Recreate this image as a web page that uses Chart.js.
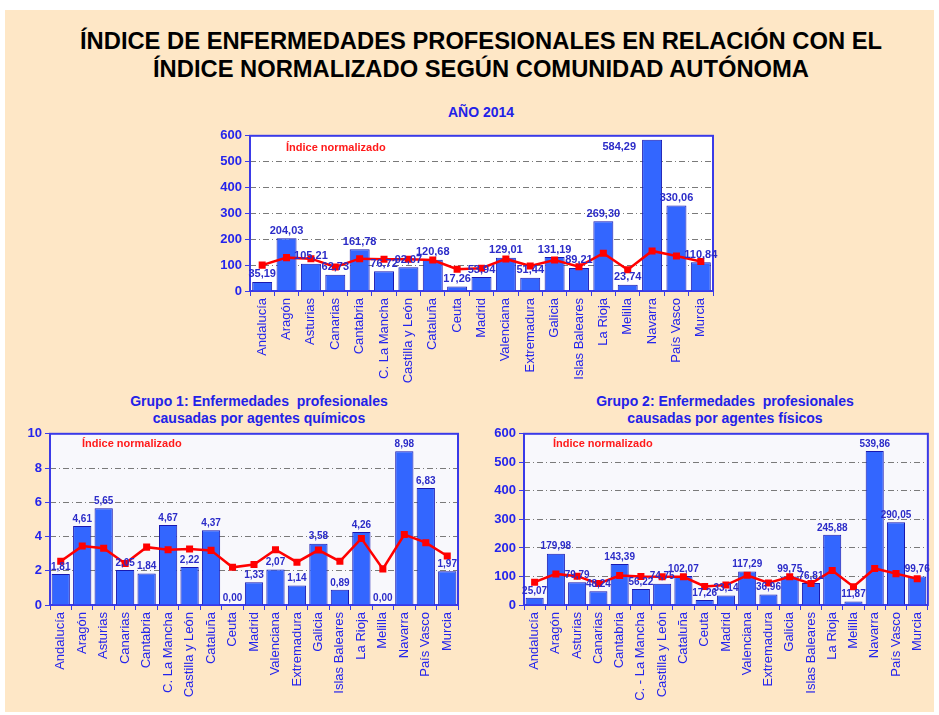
<!DOCTYPE html>
<html>
<head>
<meta charset="utf-8">
<script src="https://cdn.jsdelivr.net/npm/chart.js@4/dist/chart.umd.min.js"></script>
<style>
  html, body { margin: 0; padding: 0; background: #fff; }
  #page { position: relative; width: 939px; height: 715px; overflow: hidden; background: #fff; }
  #sheet { position: absolute; left: 5px; top: 10px; width: 929px; height: 702px; background: #FEE7C6; }
  .title { position: absolute; left: 0; width: 962px; text-align: center; font: bold 24px 'Liberation Sans', Arial, sans-serif; color: #000; line-height: 28px; transform-origin: 481px 50%; white-space: nowrap; }
  .sub { position: absolute; text-align: center; font: bold 14px 'Liberation Sans', Arial, sans-serif; color: #2222E8; line-height: 17px; white-space: pre; }
  canvas { position: absolute; }
</style>
</head>
<body>
<div id="page">
  <div id="sheet"></div>
  <div class="title" id="t1" style="top:27px">ÍNDICE DE ENFERMEDADES PROFESIONALES EN RELACIÓN CON EL</div>
  <div class="title" id="t2" style="top:55px">ÍNDICE NORMALIZADO SEGÚN COMUNIDAD AUTÓNOMA</div>
  <div class="sub" style="left:381px; width:200px; top:104px">AÑO 2014</div>
  <div class="sub" style="left:99px; width:320px; top:393px">Grupo 1: Enfermedades  profesionales
causadas por agentes químicos</div>
  <div class="sub" style="left:565px; width:320px; top:393px">Grupo 2: Enfermedades  profesionales
causadas por agentes físicos</div>
  <canvas id="chartTotal" width="520" height="275" style="left:200px; top:125px"></canvas>
  <canvas id="chartG1" width="460" height="285" style="left:10px; top:423px"></canvas>
  <canvas id="chartG2" width="460" height="285" style="left:475px; top:423px"></canvas>
</div>

<script>
// Comunidades autónomas
const regiones = ['Andalucía', 'Aragón', 'Asturias', 'Canarias', 'Cantabria', 'C. La Mancha', 'Castilla y León', 'Cataluña', 'Ceuta', 'Madrid', 'Valenciana', 'Extremadura', 'Galicia', 'Islas Baleares', 'La Rioja', 'Melilla', 'Navarra', 'País Vasco', 'Murcia'];
const regionesG2 = ['Andalucía', 'Aragón', 'Asturias', 'Canarias', 'Cantabria', 'C. - La Mancha', 'Castilla y León', 'Cataluña', 'Ceuta', 'Madrid', 'Valenciana', 'Extremadura', 'Galicia', 'Islas Baleares', 'La Rioja', 'Melilla', 'Navarra', 'País Vasco', 'Murcia'];

// Año 2014 - total
const indiceTotal = [35.19, 204.03, 105.21, 62.73, 161.78, 76.72, 92.07, 120.68, 17.26, 53.94, 129.01, 51.44, 131.19, 89.21, 269.30, 23.74, 584.29, 330.06, 110.84];
const normalizadoTotal = [100, 129, 125, 93, 125, 123, 123, 120, 84, 88, 124, 97, 120, 94, 146, 82, 155, 135, 114];

// Grupo 1: agentes químicos
const indiceG1 = [1.81, 4.61, 5.65, 2.05, 1.84, 4.67, 2.22, 4.37, 0.00, 1.33, 2.07, 1.14, 3.58, 0.89, 4.26, 0.00, 8.98, 6.83, 1.97];
const normalizadoG1 = [2.55, 3.44, 3.31, 2.42, 3.38, 3.23, 3.27, 3.19, 2.20, 2.36, 3.23, 2.50, 3.21, 2.55, 3.89, 2.11, 4.12, 3.64, 2.86];

// Grupo 2: agentes físicos
const indiceG2 = [25.07, 179.98, 79.79, 48.24, 143.39, 56.22, 74.75, 102.07, 17.26, 33.14, 117.29, 36.96, 99.75, 76.81, 245.88, 11.87, 539.86, 290.05, 99.76];
const normalizadoG2 = [80, 109, 101, 75, 103, 100, 99, 99, 65, 70, 104, 77, 99, 75, 121, 64, 128, 110, 92];

// Escalas del eje Y
const ejeTotal = { max: 600, step: 100 };
const ejeG1 = { max: 10, step: 2 };
const ejeG2 = { max: 600, step: 100 };

const BLUE_TEXT = '#2424EC';
const FONT = "'Liberation Sans', Arial, sans-serif";

// título estrecho: se comprime el Arial al ancho del original
(function ajustarTitulo() {
    const c = document.createElement('canvas').getContext('2d');
    c.font = 'bold 24px ' + FONT;
    const w = c.measureText(document.getElementById('t1').textContent).width;
    const k = 802 / w;
    ['t1', 't2'].forEach(id => { document.getElementById(id).style.transform = 'scaleX(' + k + ')'; });
})();

const marcoPlugin = {
    id: 'marco',
    beforeDraw(chart, args, opts) {
        const a = chart.chartArea, ctx = chart.ctx;
        ctx.save();
        ctx.fillStyle = opts.bg;
        ctx.fillRect(a.left, a.top, a.right - a.left, a.bottom - a.top);
        ctx.restore();
    },
    beforeDatasetsDraw(chart) {
        const a = chart.chartArea, ctx = chart.ctx;
        ctx.save();
        ctx.strokeStyle = '#3A3AE8';
        ctx.lineWidth = 2;
        ctx.strokeRect(a.left, a.top, a.right - a.left, a.bottom - a.top);
        ctx.restore();
    },
    afterDatasetsDraw(chart, args, opts) {
        const ctx = chart.ctx, a = chart.chartArea;
        ctx.save();
        // etiquetas de valor sobre las barras
        const meta = chart.getDatasetMeta(1);
        ctx.fillStyle = '#2B2BC8';
        ctx.font = 'bold ' + opts.size + 'px ' + FONT;
        ctx.textBaseline = 'bottom';
        meta.data.forEach((bar, i) => {
            const txt = chart.data.datasets[1].data[i].toFixed(2).replace('.', ',');
            if (bar.y - 3 - opts.size < a.top) {
                // no cabe encima: a la izquierda de la barra
                ctx.textAlign = 'right';
                ctx.fillText(txt, bar.x - bar.width / 2 - 6, a.top + 17);
            } else {
                ctx.textAlign = 'center';
                ctx.fillText(txt, bar.x, bar.y - 2);
            }
        });
        // rótulo de la serie
        ctx.fillStyle = '#FF1A1A';
        ctx.font = 'bold 11px ' + FONT;
        ctx.textAlign = 'left';
        ctx.textBaseline = 'middle';
        ctx.fillText('Índice normalizado', a.left + opts.legendX, a.top + opts.legendY);
        ctx.restore();
    }
};

function crearGrafico(id, labels, barras, linea, eje, cfg) {
    const ctx = document.getElementById(id).getContext('2d');
    return new Chart(ctx, {
        type: 'bar',
        data: {
            labels: labels,
            datasets: [
                {
                    type: 'line', data: linea, order: 0,
                    borderColor: '#FF0000', backgroundColor: '#FF0000', borderWidth: 2.5,
                    pointStyle: 'rect', pointRadius: 3.2, tension: 0
                },
                {
                    type: 'bar', data: barras, order: 1,
                    backgroundColor: '#3366FF', borderColor: '#1818B0', borderWidth: 1,
                    barPercentage: cfg.barPct, categoryPercentage: 1
                }
            ]
        },
        options: {
            responsive: false,
            animation: false,
            devicePixelRatio: 1,
            layout: { padding: { top: 10, right: cfg.right, left: 0, bottom: 0 } },
            plugins: {
                legend: { display: false },
                tooltip: { enabled: false },
                marco: { bg: cfg.bg, size: cfg.labelSize, legendX: cfg.legendX, legendY: cfg.legendY }
            },
            scales: {
                x: {
                    grid: { offset: true, drawOnChartArea: false, color: '#3A3AE8', tickLength: 5 },
                    border: { display: false },
                    ticks: { minRotation: 90, maxRotation: 90, autoSkip: false, color: BLUE_TEXT, padding: 2, font: { family: FONT, size: 13 } },
                    afterFit: s => { s.height = cfg.xh; }
                },
                y: {
                    min: 0, max: eje.max,
                    ticks: { stepSize: eje.step, color: BLUE_TEXT, padding: 3, font: { family: FONT, size: 13, weight: 'bold' } },
                    grid: {
                        color: c => (c.tick.value === 0 || c.tick.value === eje.max) ? 'rgba(0,0,0,0)' : '#7A7A7A',
                        tickColor: '#3A3AE8', tickLength: 5, tickBorderDash: [], lineWidth: 1
                    },
                    border: { display: false, dash: [6, 3, 1, 3] },
                    afterFit: s => { s.width = cfg.yw; }
                }
            }
        },
        plugins: [marcoPlugin]
    });
}

crearGrafico('chartTotal', regiones, indiceTotal, normalizadoTotal, ejeTotal,
    { right: 7, yw: 50, xh: 109, barPct: 0.82, bg: '#FFFFFF', labelSize: 11, legendX: 36, legendY: 12 });
crearGrafico('chartG1', regiones, indiceG1, normalizadoG1, ejeG1,
    { right: 12, yw: 40, xh: 103, barPct: 0.85, bg: '#F8F8FC', labelSize: 10, legendX: 32, legendY: 10 });
crearGrafico('chartG2', regionesG2, indiceG2, normalizadoG2, ejeG2,
    { right: 6, yw: 49, xh: 103, barPct: 0.85, bg: '#F8F8FC', labelSize: 10, legendX: 29, legendY: 10 });
</script>
</body>
</html>
